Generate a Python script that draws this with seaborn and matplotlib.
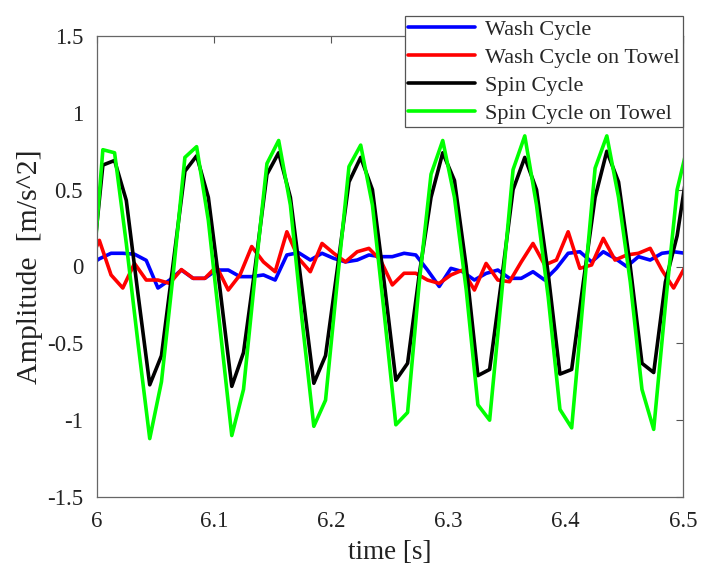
import numpy as np
import pandas as pd
import seaborn as sns
import matplotlib.pyplot as plt

# sampling grids (100 Hz), one sample before 6.0 and after 6.5 so the lines reach the frame
spin_start = 5.995
wash_start = 5.992
step = 0.01
n_samples = 52

wash_cycle = [0.00, 0.05, 0.086, 0.086, 0.08, 0.04, -0.14, -0.088, -0.023, -0.077,
              -0.077, -0.023, -0.023, -0.066, -0.066, -0.055, -0.088, 0.075, 0.09, 0.042,
              0.086, 0.053, 0.03, 0.042, 0.075, 0.064, 0.064, 0.086, 0.075, -0.023,
              -0.13, -0.012, -0.034, -0.088, -0.045, -0.023, -0.077, -0.077, -0.034, -0.088,
              -0.012, 0.086, 0.096, 0.03, 0.096, 0.053, 0.0, 0.064, 0.042, 0.086,
              0.096, 0.086]

wash_towel = [0.00, 0.17, -0.055, -0.14, 0.02, -0.088, -0.088, -0.11, -0.02, -0.077,
              -0.077, 0.0, -0.153, -0.055, 0.13, 0.03, -0.034, 0.226, 0.053, -0.034,
              0.15, 0.086, 0.03, 0.096, 0.118, 0.04, -0.12, -0.044, -0.044, -0.088,
              -0.11, -0.055, -0.023, -0.153, 0.02, -0.088, -0.099, 0.03, 0.15, 0.01,
              0.042, 0.226, -0.012, 0.01, 0.183, 0.042, 0.075, 0.086, 0.118, -0.023,
              -0.14, 0.0]

spin_cycle = [-0.10, 0.66, 0.69, 0.43, -0.18, -0.77, -0.58, 0.02, 0.62, 0.72,
              0.45, -0.15, -0.78, -0.56, 0.00, 0.60, 0.74, 0.45, -0.15, -0.76,
              -0.58, -0.02, 0.55, 0.71, 0.50, -0.10, -0.74, -0.63, -0.05, 0.45,
              0.74, 0.56, 0.00, -0.71, -0.67, -0.10, 0.50, 0.71, 0.50, -0.05,
              -0.70, -0.67, -0.10, 0.45, 0.75, 0.55, 0.00, -0.63, -0.69, -0.10,
              0.20, 0.70]

spin_towel = [-0.20, 0.76, 0.74, 0.15, -0.50, -1.12, -0.75, -0.05, 0.71, 0.78,
              0.30, -0.40, -1.10, -0.80, -0.05, 0.67, 0.82, 0.40, -0.35, -1.04,
              -0.87, -0.10, 0.65, 0.79, 0.40, -0.30, -1.03, -0.95, -0.10, 0.60,
              0.82, 0.45, -0.15, -0.90, -1.00, -0.20, 0.63, 0.85, 0.40, -0.20,
              -0.93, -1.05, -0.20, 0.64, 0.85, 0.45, -0.10, -0.80, -1.06, -0.25,
              0.50, 0.82]

labels = ['Wash Cycle', 'Wash Cycle on Towel', 'Spin Cycle', 'Spin Cycle on Towel']
colors = ['#0000ff', '#ff0000', '#000000', '#00ff00']

x_ticks = [6, 6.1, 6.2, 6.3, 6.4, 6.5]
x_tick_labels = ['6', '6.1', '6.2', '6.3', '6.4', '6.5']
y_ticks = [-1.5, -1, -0.5, 0, 0.5, 1, 1.5]
y_tick_labels = ['-1.5', '-1', '-0.5', '0', '0.5', '1', '1.5']

idx = np.arange(n_samples)
wash_time = wash_start + step * idx
spin_time = spin_start + step * idx

frames = []
for name, t, vals in [(labels[0], wash_time, wash_cycle),
                      (labels[1], wash_time, wash_towel),
                      (labels[2], spin_time, spin_cycle),
                      (labels[3], spin_time, spin_towel)]:
    frames.append(pd.DataFrame({'time': t, 'amp': vals, 'series': name}))
df = pd.concat(frames, ignore_index=True)

sns.set_style('white')
plt.rcParams['font.family'] = ['Liberation Serif', 'DejaVu Serif']

fig = plt.figure(figsize=(7.01, 5.71), dpi=100)
ax = fig.add_axes([97 / 701, 1 - 497 / 571, 586 / 701, 461 / 571])

sns.lineplot(data=df, x='time', y='amp', hue='series', hue_order=labels,
             palette=dict(zip(labels, colors)), linewidth=2.6, sort=False,
             estimator=None, ax=ax)

ax.set_xlim(6, 6.5)
ax.set_ylim(-1.5, 1.5)
ax.set_xticks(x_ticks)
ax.set_xticklabels(x_tick_labels)
ax.set_yticks(y_ticks)
ax.set_yticklabels(y_tick_labels)
ax.tick_params(direction='in', top=True, right=True, length=5, width=0.8,
               color='#555555', labelsize=16.5, labelcolor='#222222')
ax.tick_params(axis='x', pad=10)
ax.tick_params(axis='y', pad=10)
for s in ax.spines.values():
    s.set_color('#666666')
    s.set_linewidth(0.9)

ax.set_xlabel('time [s]', fontsize=19.5, color='#222222', labelpad=6)
ax.set_ylabel('Amplitude  [m/s^2]', fontsize=21.5, color='#222222', labelpad=3)

handles, _ = ax.get_legend_handles_labels()
leg = ax.legend(handles, labels, loc='lower right',
                bbox_to_anchor=(683 / 701, 1 - 127 / 571),
                bbox_transform=fig.transFigure, borderaxespad=0,
                fontsize=16, frameon=True, fancybox=False, framealpha=1,
                edgecolor='#555555', handlelength=3.0, handletextpad=0.45,
                labelspacing=0.33, borderpad=0.15)
leg.get_frame().set_linewidth(0.9)
for line in leg.get_lines():
    line.set_linewidth(2.6)

fig.savefig('out.png', dpi=100)
